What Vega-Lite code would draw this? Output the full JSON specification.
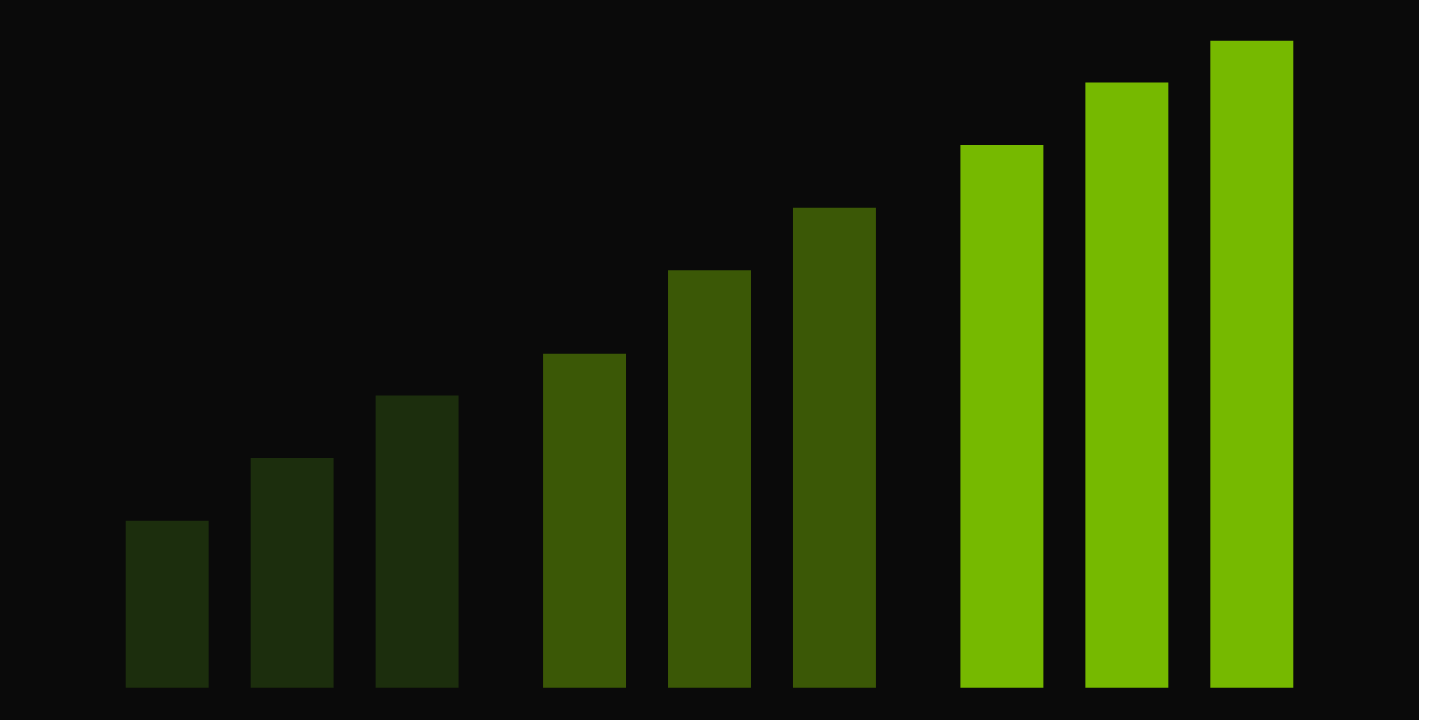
{
  "$schema": "https://vega.github.io/schema/vega-lite/v6.json",
  "width": 1419,
  "height": 720,
  "padding": 0,
  "autosize": {"type": "none"},
  "background": "#ffffff",
  "data": {
    "values": [
      {"group": "A", "item": 1, "value": 8},
      {"group": "A", "item": 2, "value": 11},
      {"group": "A", "item": 3, "value": 14},
      {"group": "B", "item": 1, "value": 16},
      {"group": "B", "item": 2, "value": 20},
      {"group": "B", "item": 3, "value": 23},
      {"group": "C", "item": 1, "value": 26},
      {"group": "C", "item": 2, "value": 29},
      {"group": "C", "item": 3, "value": 31}
    ]
  },
  "mark": {"type": "bar"},
  "encoding": {
    "x": {
      "field": "group",
      "type": "nominal",
      "scale": {"paddingInner": 0, "paddingOuter": 0.2},
      "axis": null
    },
    "xOffset": {
      "field": "item",
      "type": "ordinal",
      "scale": {"paddingInner": 0.336, "paddingOuter": 0.338}
    },
    "y": {
      "field": "value",
      "type": "quantitative",
      "scale": {"domain": [-1.55, 32.95], "nice": false, "zero": false},
      "axis": null
    },
    "y2": {"datum": 0},
    "color": {
      "field": "group",
      "type": "nominal",
      "scale": {"domain": ["A", "B", "C"], "range": ["#1c2e0d", "#3b5806", "#76b900"]},
      "legend": null
    }
  },
  "config": {
    "view": {"fill": "#0a0a0a", "stroke": null}
  }
}
